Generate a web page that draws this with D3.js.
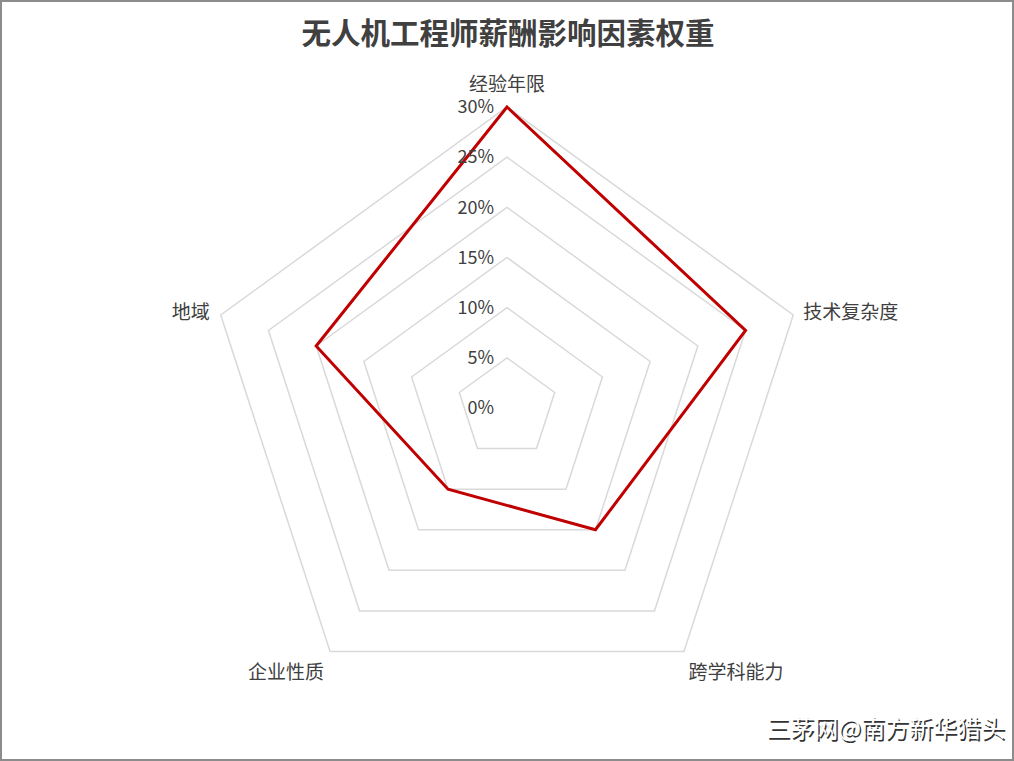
<!DOCTYPE html>
<html><head><meta charset="utf-8">
<script src="https://cdn.jsdelivr.net/npm/d3@7"></script>
<style>
html,body{margin:0;padding:0;background:#fff;}
svg{display:block;}
text{font-family:"Noto Sans CJK SC","Noto Sans",sans-serif;}
</style></head><body>
<script>
const categories = ["经验年限","技术复杂度","跨学科能力","企业性质","地域"];
const values = [0.30,0.25,0.15,0.10,0.20];
const ticks = [0,0.05,0.10,0.15,0.20,0.25,0.30];
const tickLabels = ["0%","5%","10%","15%","20%","25%","30%"];

const W=1014,H=761, cx=507, cy=408, R=301;
const svg=d3.select("body").append("svg").attr("width",W).attr("height",H);
svg.append("rect").attr("x",1).attr("y",1).attr("width",W-2).attr("height",H-2).attr("fill","#fff").attr("stroke","#8c8c8c").attr("stroke-width",2);

const r=d3.scaleLinear().domain([0,0.30]).range([0,R]);
const ang=d3.scaleLinear().domain([0,categories.length]).range([0,2*Math.PI]);
const g=svg.append("g").attr("transform",`translate(${cx},${cy})`);
const radial=d3.lineRadial().angle((d,i)=>ang(i)).radius(d=>r(d)).curve(d3.curveLinearClosed);

ticks.slice(1).forEach(t=>{
  g.append("path").attr("d",radial(categories.map(()=>t))).attr("fill","none").attr("stroke","#d9d9d9").attr("stroke-width",1.5);
});
g.append("path").attr("d",radial(values)).attr("fill","none").attr("stroke","#c00000").attr("stroke-width",3).attr("stroke-linejoin","miter");

ticks.forEach((t,i)=>{
  g.append("text").attr("x",-13).attr("y",-r(t)).attr("dy","0.35em").attr("text-anchor","end")
   .attr("font-size",18).attr("fill","#404040").attr("font-family","Roboto,'Noto Sans',sans-serif").text(tickLabels[i]);
});

const offs=[[0,-23,"middle"],[10,-3,"start"],[52,21,"middle"],[-44,21,"middle"],[-11,-3,"end"]];
categories.forEach((c,i)=>{
  const a=ang(i);
  const x=Math.sin(a)*R+offs[i][0], y=-Math.cos(a)*R+offs[i][1];
  g.append("text").attr("x",x).attr("y",y).attr("dy","0.35em").attr("text-anchor",offs[i][2])
   .attr("font-size",19).attr("fill","#404040").text(c);
});

svg.append("text").attr("x",W/2+1).attr("y",34).attr("dy","0.35em").attr("text-anchor","middle")
 .attr("font-size",29.5).attr("font-weight","bold").attr("fill","#404040").text("无人机工程师薪酬影响因素权重");

const wm="三茅网@南方新华猎头";
svg.append("text").attr("x",1005).attr("y",729).attr("dy","0.35em").attr("text-anchor","end")
 .attr("font-size",24).attr("fill","#333").attr("transform","translate(1.5,1.5)").text(wm);
svg.append("text").attr("x",1005).attr("y",729).attr("dy","0.35em").attr("text-anchor","end")
 .attr("font-size",24).attr("fill","#fff").text(wm);
</script></body></html>
